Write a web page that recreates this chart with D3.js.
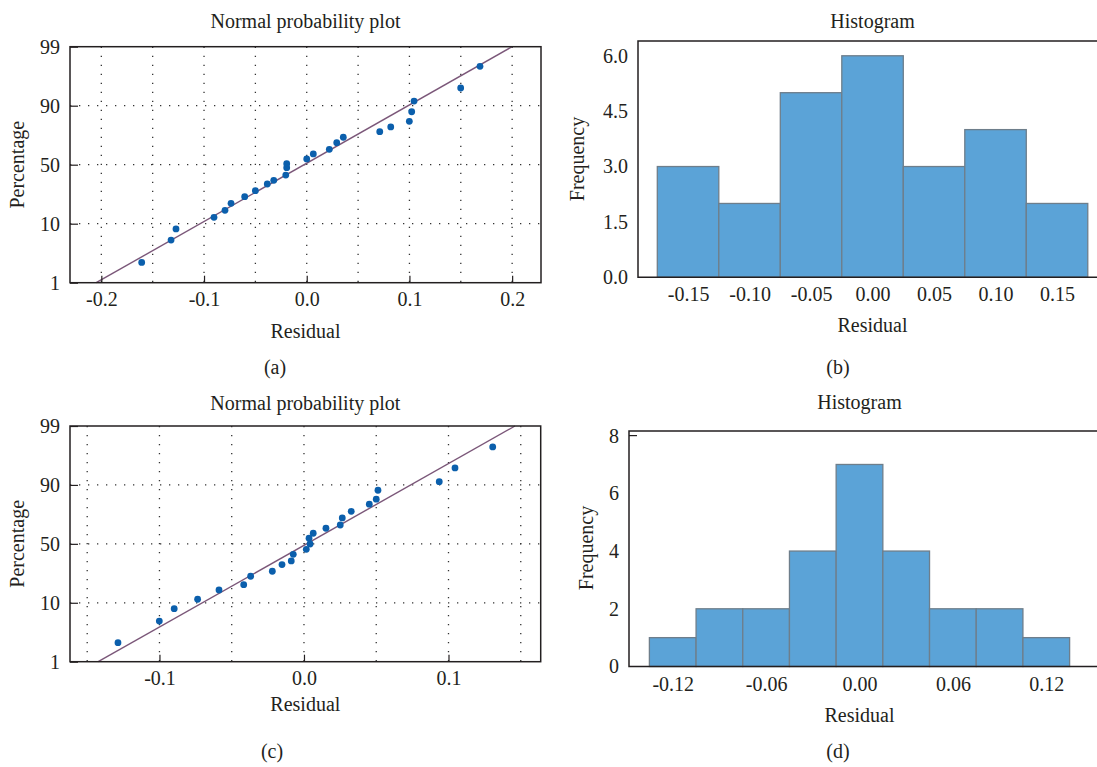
<!DOCTYPE html>
<html>
<head>
<meta charset="utf-8">
<script src="https://cdn.jsdelivr.net/npm/d3@7"></script>
<style>
  body { margin: 0; background: #fff; }
  svg { display: block; font-family: "Liberation Serif", "DejaVu Serif", serif; }
  svg text { font-family: "Liberation Serif", "DejaVu Serif", serif; fill: #231f20; }
</style>
</head>
<body>
<svg width="1097" height="767"></svg>
<script>
// ---- data ----
var pctTicks = [1, 10, 50, 90, 99];

// (a) normal probability plot
var residA = [-0.1607, -0.1321, -0.1273, -0.0903, -0.0796, -0.0737, -0.0604, -0.0500, -0.0384,
              -0.0321, -0.0204, -0.0195, -0.0195, 0.0000, 0.0064, 0.0220, 0.0292, 0.0356,
              0.0711, 0.0818, 0.0999, 0.1022, 0.1045, 0.1499, 0.1687];
var pctA = [4.1, 7.5, 9.2, 14.3, 19.1, 23.8, 28.3, 32.4, 36.9,
            39.4, 43.0, 48.0, 50.7, 53.9, 57.3, 60.4, 64.9, 68.6,
            72.4, 75.6, 79.4, 85.9, 90.7, 92.7, 96.0];
var fitA = [[-0.205, 1], [0.2, 99]];
var xTicksA = [-0.2, -0.1, 0, 0.1, 0.2];
var gridXA = [-0.2, -0.15, -0.1, -0.05, 0, 0.05, 0.1, 0.15, 0.2];

// (c) normal probability plot
var residC = [-0.1287, -0.1001, -0.0898, -0.0736, -0.0588, -0.0417, -0.0369, -0.0219, -0.0152,
              -0.0088, -0.0074, 0.0016, 0.0042, 0.0035, 0.0064, 0.0152, 0.0251, 0.0265,
              0.0327, 0.0452, 0.0500, 0.0512, 0.0936, 0.1045, 0.1306];
var pctC = [3.9, 7.2, 9.1, 12.4, 18.7, 22.3, 28.0, 31.4, 35.9,
            38.4, 42.9, 46.3, 49.9, 53.8, 57.2, 60.6, 62.8, 67.6,
            72.1, 76.9, 80.3, 86.4, 90.5, 92.6, 95.8];
var fitC = [[-0.1424, 1], [0.146, 99]];
var xTicksC = [-0.1, 0, 0.1];
var gridXC = [-0.15, -0.1, -0.05, 0, 0.05, 0.1, 0.15];

// (b) histogram
var binsB = [-0.15, -0.10, -0.05, 0.00, 0.05, 0.10, 0.15];
var countsB = [3, 2, 5, 6, 3, 4, 2];
var binWidthB = 0.05;
var yTicksB = [0, 1.5, 3.0, 4.5, 6.0];

// (d) histogram
var binsD = [-0.12, -0.09, -0.06, -0.03, 0.00, 0.03, 0.06, 0.09, 0.12];
var countsD = [1, 2, 2, 4, 7, 4, 2, 2, 1];
var binWidthD = 0.03;
var yTicksD = [0, 2, 4, 6, 8];
var xTicksD = [-0.12, -0.06, 0.00, 0.06, 0.12];

var svg = d3.select("svg");
var ink = "#231f20";
var serif = '"Liberation Serif", "DejaVu Serif", serif';

function styleAxis(a) {
    a.attr("font-family", serif).attr("font-size", 20);
    a.select(".domain").remove();
    a.selectAll("line").attr("stroke", ink).attr("stroke-width", 1.2);
    a.selectAll("text").style("fill", ink).style("font-family", serif);
}

function probPlot(p) {
    var g = svg.append("g");
    var x = d3.scaleLinear().domain(p.xDomain).range([p.left, p.right]);
    var step = (p.bottom - p.top) / (pctTicks.length - 1);
    var y = d3.scaleLinear()
        .domain(pctTicks)
        .range(pctTicks.map((d, i) => p.bottom - i * step));

    // dotted grid
    g.append("g").selectAll("line").data(p.gridX).join("line")
        .attr("x1", d => x(d)).attr("x2", d => x(d))
        .attr("y1", p.top).attr("y2", p.bottom)
        .attr("stroke", "#333").attr("stroke-width", 1.3)
        .attr("stroke-dasharray", "1.3,7.7");
    g.append("g").selectAll("line").data([10, 50, 90]).join("line")
        .attr("x1", p.left).attr("x2", p.right)
        .attr("y1", d => y(d)).attr("y2", d => y(d))
        .attr("stroke", "#333").attr("stroke-width", 1.3)
        .attr("stroke-dasharray", "1.3,7.7");

    // fitted line
    g.append("path")
        .datum(p.fit)
        .attr("fill", "none")
        .attr("stroke", "#7b5779")
        .attr("stroke-width", 1.4)
        .attr("d", d3.line().x(d => x(d[0])).y(d => y(d[1])));

    // points
    g.append("g").selectAll("circle").data(p.resid).join("circle")
        .attr("cx", d => x(d))
        .attr("cy", (d, i) => y(p.pct[i]))
        .attr("r", 3.4)
        .attr("fill", "#0b5fac");

    // axes
    var ax = g.append("g")
        .attr("transform", "translate(0," + p.bottom + ")")
        .call(d3.axisBottom(x).tickValues(p.xTicks)
            .tickSizeInner(-7).tickSizeOuter(0).tickPadding(9));
    var ay = g.append("g")
        .attr("transform", "translate(" + p.left + ",0)")
        .call(d3.axisLeft(y).tickValues(pctTicks).tickFormat(d3.format("d"))
            .tickSizeInner(-8).tickSizeOuter(0).tickPadding(10));
    styleAxis(ax);
    styleAxis(ay);
    ax.selectAll("text").text(d => d3.format(".1f")(d).replace("−", "-"));

    g.append("rect")
        .attr("x", p.left).attr("y", p.top)
        .attr("width", p.right - p.left).attr("height", p.bottom - p.top)
        .attr("fill", "none").attr("stroke", ink).attr("stroke-width", 1.5);

    g.append("text").attr("x", (p.left + p.right) / 2).attr("y", p.titleY)
        .attr("text-anchor", "middle").attr("font-size", 20).text("Normal probability plot");
    g.append("text").attr("x", (p.left + p.right) / 2).attr("y", p.xLabelY)
        .attr("text-anchor", "middle").attr("font-size", 20).text("Residual");
    g.append("text")
        .attr("transform", "translate(" + p.yLabelX + "," + (p.top + p.bottom) / 2 + ") rotate(-90)")
        .attr("text-anchor", "middle").attr("font-size", 20).text("Percentage");
    g.append("text").attr("x", p.capX).attr("y", p.capY)
        .attr("text-anchor", "middle").attr("font-size", 20).text(p.caption);
}

function histPlot(p) {
    var g = svg.append("g");
    var x = d3.scaleLinear().domain(p.xDomain).range([p.left, p.right]);
    var y = d3.scaleLinear().domain(p.yDomain).range([p.bottom, p.top]);

    g.append("g").selectAll("rect").data(p.bins).join("rect")
        .attr("x", d => x(d - p.binWidth / 2))
        .attr("width", x(p.binWidth) - x(0))
        .attr("y", (d, i) => y(p.counts[i]))
        .attr("height", (d, i) => y(0) - y(p.counts[i]))
        .attr("fill", "#5ba3d7")
        .attr("stroke", "#6e7e8b")
        .attr("stroke-width", 1.3);

    var ax = g.append("g")
        .attr("transform", "translate(0," + p.bottom + ")")
        .call(d3.axisBottom(x).tickValues(p.xTicks)
            .tickSize(0).tickPadding(10));
    var ay = g.append("g")
        .attr("transform", "translate(" + p.left + ",0)")
        .call(d3.axisLeft(y).tickValues(p.yTicks).tickFormat(p.yFormat)
            .tickSize(0).tickPadding(10));
    styleAxis(ax);
    styleAxis(ay);
    ax.selectAll("text").text(d => d3.format(".2f")(d).replace("−", "-"));

    if (p.topTick) {
        g.append("line")
            .attr("x1", p.left).attr("x2", p.left + 8)
            .attr("y1", y(p.topTick)).attr("y2", y(p.topTick))
            .attr("stroke", ink).attr("stroke-width", 1.2);
    }

    // frame: top, left, bottom (right side lies outside the picture)
    g.append("path")
        .attr("d", "M" + p.right + "," + p.top + "H" + p.left + "V" + p.bottom + "H" + p.right)
        .attr("fill", "none").attr("stroke", ink).attr("stroke-width", 1.5);

    g.append("text").attr("x", x(0)).attr("y", p.titleY)
        .attr("text-anchor", "middle").attr("font-size", 20).text("Histogram");
    g.append("text").attr("x", x(0)).attr("y", p.xLabelY)
        .attr("text-anchor", "middle").attr("font-size", 20).text("Residual");
    g.append("text")
        .attr("transform", "translate(" + p.yLabelX + "," + p.yLabelMid + ") rotate(-90)")
        .attr("text-anchor", "middle").attr("font-size", 20).text("Frequency");
    g.append("text").attr("x", p.capX).attr("y", p.capY)
        .attr("text-anchor", "middle").attr("font-size", 20).text(p.caption);
}

probPlot({
    resid: residA, pct: pctA, fit: fitA, xTicks: xTicksA, gridX: gridXA,
    xDomain: [-0.2305, 0.2281], left: 70, right: 541, top: 46.7, bottom: 282.7,
    titleY: 28, xLabelY: 338, yLabelX: 24, capX: 275, capY: 374, caption: "(a)"
});
probPlot({
    resid: residC, pct: pctC, fit: fitC, xTicks: xTicksC, gridX: gridXC,
    xDomain: [-0.1619, 0.1638], left: 70, right: 540.7, top: 426, bottom: 661.7,
    titleY: 410, xLabelY: 711, yLabelX: 24, capX: 272, capY: 758, caption: "(c)"
});
histPlot({
    bins: binsB, counts: countsB, binWidth: binWidthB, xTicks: binsB,
    yTicks: yTicksB, yFormat: d3.format(".1f"),
    xDomain: [-0.1907, 0.1825], yDomain: [0, 6.4],
    left: 638, right: 1097, top: 41, bottom: 277.3,
    titleY: 28, xLabelY: 332, yLabelX: 584, yLabelMid: 159, capX: 838, capY: 374, caption: "(b)"
});
histPlot({
    bins: binsD, counts: countsD, binWidth: binWidthD, xTicks: xTicksD,
    yTicks: yTicksD, yFormat: d3.format("d"), topTick: 8,
    xDomain: [-0.1481, 0.1526], yDomain: [0, 8.16],
    left: 629, right: 1097, top: 431, bottom: 666.5,
    titleY: 409, xLabelY: 722, yLabelX: 593, yLabelMid: 548, capX: 838, capY: 758, caption: "(d)"
});
</script>
</body>
</html>
